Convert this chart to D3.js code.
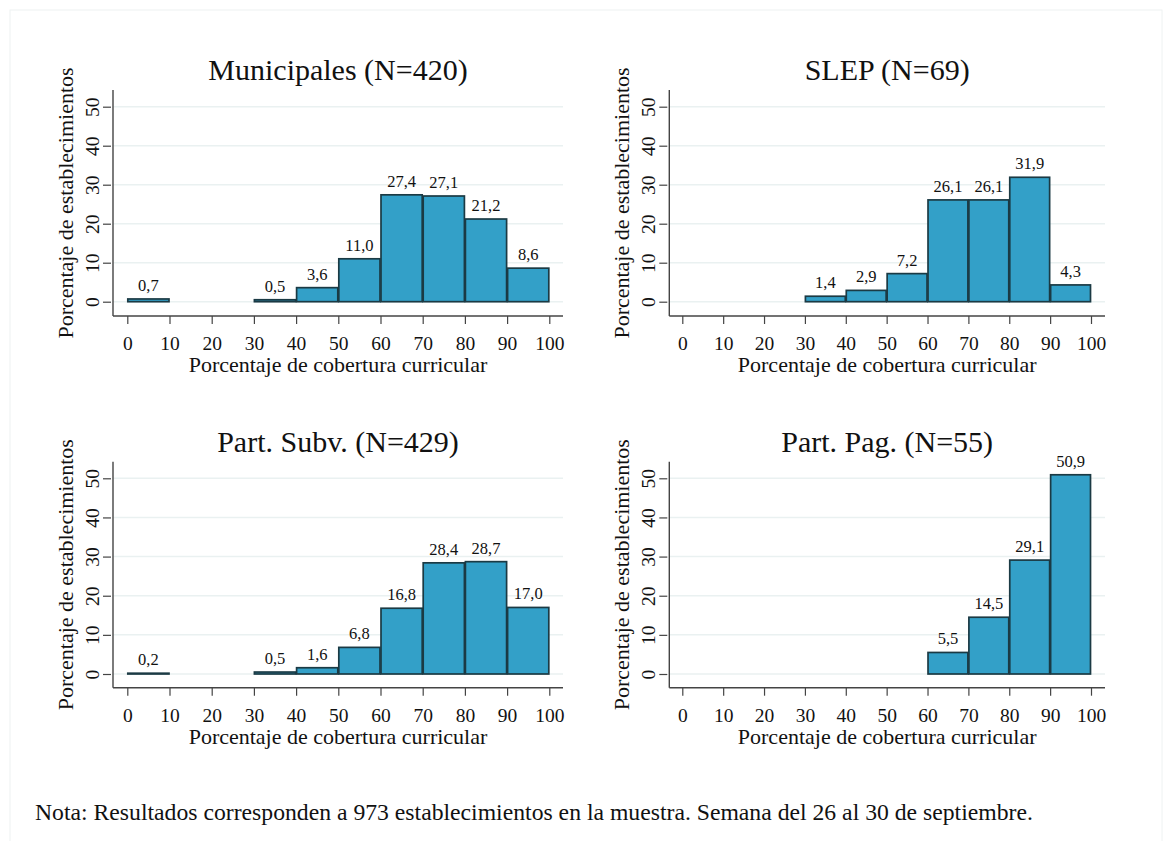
<!DOCTYPE html>
<html>
<head>
<meta charset="utf-8">
<script src="https://cdn.jsdelivr.net/npm/d3@7"></script>
<style>
  html, body { margin: 0; padding: 0; background: #fff; }
  svg { display: block; }
  text { font-family: "Liberation Serif", "Times New Roman", serif; fill: #111; }
</style>
</head>
<body>
<svg id="chart" width="1168" height="841"></svg>
<script>
// ---- Data ----
const binStarts = [0, 10, 20, 30, 40, 50, 60, 70, 80, 90];
const binWidth = 10;
const xTicks = [0, 10, 20, 30, 40, 50, 60, 70, 80, 90, 100];
const yTicks = [0, 10, 20, 30, 40, 50];

const titles = ["Municipales (N=420)", "SLEP (N=69)", "Part. Subv. (N=429)", "Part. Pag. (N=55)"];
const municipales = [0.7, 0, 0, 0.5, 3.6, 11.0, 27.4, 27.1, 21.2, 8.6];
const slep        = [0, 0, 0, 1.4, 2.9, 7.2, 26.1, 26.1, 31.9, 4.3];
const partSubv    = [0.2, 0, 0, 0.5, 1.6, 6.8, 16.8, 28.4, 28.7, 17.0];
const partPag     = [0, 0, 0, 0, 0, 0, 5.5, 14.5, 29.1, 50.9];

const xTitle = "Porcentaje de cobertura curricular";
const yTitle = "Porcentaje de establecimientos";
const note = "Nota: Resultados corresponden a 973 establecimientos en la muestra. Semana del 26 al 30 de septiembre.";

// ---- Layout ----
const panels = [
  { title: titles[0], values: municipales, axisX: 113, x0: 127.3, x1: 549.3, xEnd: 563, yTop: 90,    y0: 301.7, y50: 106.7, axisY: 316,   titleY: 80 },
  { title: titles[1], values: slep,        axisX: 669.3, x0: 682.3, x1: 1091, xEnd: 1105, yTop: 90,  y0: 301.7, y50: 106.7, axisY: 316,   titleY: 80 },
  { title: titles[2], values: partSubv,    axisX: 113, x0: 127.3, x1: 549.3, xEnd: 563, yTop: 461.7, y0: 674,   y50: 478.3, axisY: 687.7, titleY: 452 },
  { title: titles[3], values: partPag,     axisX: 669.3, x0: 682.3, x1: 1091, xEnd: 1105, yTop: 461.7, y0: 674, y50: 478.3, axisY: 687.7, titleY: 452 }
];

const fmt = v => v.toFixed(1).replace(".", ",");
const svg = d3.select("#chart");

// outer faint frame
svg.append("rect").attr("x", 10).attr("y", 10).attr("width", 1152).attr("height", 840)
  .attr("fill", "none").attr("stroke", "#eef2f2").attr("stroke-width", 1);

panels.forEach(p => {
  const g = svg.append("g");
  const x = d3.scaleLinear().domain([0, 100]).range([p.x0, p.x1]);
  const y = d3.scaleLinear().domain([0, 50]).range([p.y0, p.y50]);

  // gridlines
  g.append("g").selectAll("line").data(yTicks).join("line")
    .attr("x1", p.axisX).attr("x2", p.xEnd)
    .attr("y1", d => y(d)).attr("y2", d => y(d))
    .attr("stroke", "#eaf1f1").attr("stroke-width", 1.5);

  // bars
  const bins = binStarts.map((s, i) => ({ s, v: p.values[i] })).filter(d => d.v > 0);
  g.append("g").selectAll("rect").data(bins).join("rect")
    .attr("x", d => x(d.s) + 0.5)
    .attr("width", d => x(d.s + binWidth) - x(d.s) - 1)
    .attr("y", d => y(d.v))
    .attr("height", d => Math.max(0, y(0) - y(d.v)))
    .attr("fill", "#33a0c8")
    .attr("stroke", "#1b3a44")
    .attr("stroke-width", 1.7);

  // bar labels
  g.append("g").selectAll("text").data(bins).join("text")
    .attr("x", d => x(d.s + binWidth / 2))
    .attr("y", d => y(d.v) - 8)
    .attr("text-anchor", "middle")
    .attr("font-size", 16.5)
    .text(d => fmt(d.v));

  // y axis
  const yAxis = d3.axisLeft(y).tickValues(yTicks).tickSize(8).tickPadding(4).tickFormat(d3.format("d"));
  const ya = g.append("g").attr("transform", `translate(${p.axisX},0)`).call(yAxis);
  ya.select(".domain").remove();
  ya.append("line").attr("x1", 0).attr("x2", 0).attr("y1", p.yTop).attr("y2", p.axisY)
    .attr("stroke", "#444").attr("stroke-width", 1.4);
  ya.selectAll(".tick line").attr("stroke", "#444").attr("stroke-width", 1.2)
    .attr("x1", -10).attr("x2", -2);
  ya.selectAll(".tick text")
    .attr("font-family", "Liberation Serif, serif").attr("font-size", 19.5).attr("fill", "#111")
    .attr("text-anchor", "middle")
    .attr("x", 0).attr("y", 0).attr("dy", 0)
    .attr("transform", "translate(-14,0) rotate(-90)");

  // x axis
  const xAxis = d3.axisBottom(x).tickValues(xTicks).tickSize(8).tickPadding(8).tickFormat(d3.format("d"));
  const xa = g.append("g").attr("transform", `translate(0,${p.axisY})`).call(xAxis);
  xa.select(".domain").remove();
  xa.append("line").attr("x1", p.axisX).attr("x2", p.xEnd).attr("y1", 0).attr("y2", 0)
    .attr("stroke", "#444").attr("stroke-width", 1.4);
  xa.selectAll(".tick line").attr("stroke", "#444").attr("stroke-width", 1.2);
  xa.selectAll(".tick text")
    .attr("font-family", "Liberation Serif, serif").attr("font-size", 19.5).attr("fill", "#111")
    .attr("y", 34).attr("dy", 0);

  const cx = (p.axisX + p.xEnd) / 2;
  // x title
  g.append("text").attr("x", cx).attr("y", p.axisY + 56)
    .attr("text-anchor", "middle").attr("font-size", 22).text(xTitle);
  // y title
  const cy = (p.yTop + p.axisY) / 2;
  g.append("text").attr("transform", `translate(${p.axisX - 40.5},${cy}) rotate(-90)`)
    .attr("text-anchor", "middle").attr("font-size", 22).text(yTitle);
  // title
  g.append("text").attr("x", cx).attr("y", p.titleY)
    .attr("text-anchor", "middle").attr("font-size", 30).text(p.title);
});

svg.append("text").attr("x", 35).attr("y", 820).attr("font-size", 23.7).text(note);
</script>
</body>
</html>
